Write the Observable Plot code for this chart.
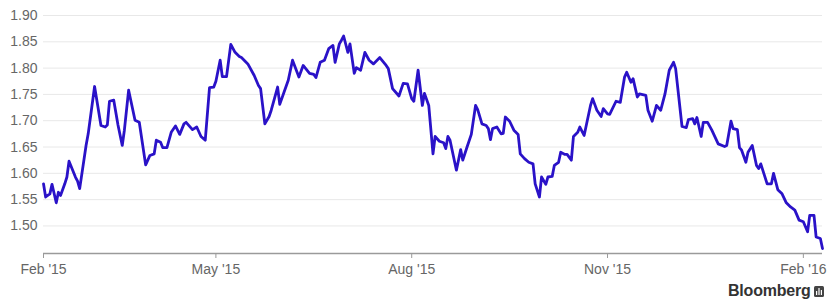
<!DOCTYPE html>
<html><head><meta charset="utf-8">
<script src="https://cdn.jsdelivr.net/npm/d3@7"></script>
<script src="https://cdn.jsdelivr.net/npm/@observablehq/plot@0.6"></script>
<style>
body{margin:0;background:#fff;font-family:"Liberation Sans",Arial,sans-serif;}
#wrap{position:relative;width:827px;height:301px;overflow:hidden;}
#brand{position:absolute;left:728px;top:282px;font-size:16px;font-weight:bold;color:#333;white-space:nowrap;letter-spacing:-0.2px;}
#brand svg{vertical-align:-1px;margin-left:3px;}
</style></head><body><div id="wrap"></div>
<script>
const dates = [
"2015-02-09","2015-02-10","2015-02-12","2015-02-13","2015-02-15","2015-02-16","2015-02-17","2015-02-19","2015-02-20","2015-02-21",
"2015-02-24","2015-02-25","2015-02-26","2015-03-01","2015-03-02","2015-03-05","2015-03-08","2015-03-10","2015-03-11","2015-03-12",
"2015-03-14","2015-03-16","2015-03-18","2015-03-19","2015-03-21","2015-03-24","2015-03-26","2015-03-29","2015-03-31","2015-04-02",
"2015-04-03","2015-04-05","2015-04-06","2015-04-08","2015-04-10","2015-04-12","2015-04-14","2015-04-16","2015-04-17","2015-04-20",
"2015-04-22","2015-04-24","2015-04-26","2015-04-28","2015-04-30","2015-05-01","2015-05-03","2015-05-04","2015-05-06","2015-05-08",
"2015-05-10","2015-05-12","2015-05-13","2015-05-16","2015-05-19","2015-05-21","2015-05-22","2015-05-24","2015-05-26","2015-05-27",
"2015-05-30","2015-05-31","2015-06-02","2015-06-04","2015-06-06","2015-06-09","2015-06-11","2015-06-14","2015-06-16","2015-06-17",
"2015-06-19","2015-06-21","2015-06-23","2015-06-25","2015-06-26","2015-06-28","2015-06-29","2015-06-30","2015-07-02","2015-07-03",
"2015-07-05","2015-07-06","2015-07-08","2015-07-10","2015-07-12","2015-07-14","2015-07-17","2015-07-20","2015-07-21","2015-07-23",
"2015-07-26","2015-07-28","2015-07-30","2015-08-01","2015-08-02","2015-08-04","2015-08-06","2015-08-07","2015-08-09","2015-08-11",
"2015-08-12","2015-08-14","2015-08-16","2015-08-17","2015-08-18","2015-08-19","2015-08-22","2015-08-24","2015-08-25","2015-08-27",
"2015-08-29","2015-08-31","2015-09-01","2015-09-03","2015-09-05","2015-09-06","2015-09-07","2015-09-08","2015-09-10","2015-09-12",
"2015-09-13","2015-09-14","2015-09-16","2015-09-18","2015-09-20","2015-09-21","2015-09-23","2015-09-25","2015-09-27","2015-09-28",
"2015-09-30","2015-10-01","2015-10-03","2015-10-04","2015-10-06","2015-10-07","2015-10-09","2015-10-10","2015-10-12","2015-10-13",
"2015-10-15","2015-10-16","2015-10-18","2015-10-19","2015-10-21","2015-10-24","2015-10-25","2015-10-27","2015-10-29","2015-10-30",
"2015-11-01","2015-11-02","2015-11-05","2015-11-07","2015-11-09","2015-11-10","2015-11-12","2015-11-13","2015-11-15","2015-11-16",
"2015-11-19","2015-11-20","2015-11-22","2015-11-24","2015-11-26","2015-11-28","2015-11-30","2015-12-02","2015-12-03","2015-12-06",
"2015-12-08","2015-12-09","2015-12-11","2015-12-12","2015-12-13","2015-12-15","2015-12-16","2015-12-18","2015-12-20","2015-12-23",
"2015-12-26","2015-12-27","2015-12-29","2015-12-30","2016-01-01","2016-01-02","2016-01-03","2016-01-05","2016-01-06","2016-01-08",
"2016-01-10","2016-01-11","2016-01-12","2016-01-15","2016-01-17","2016-01-18","2016-01-20","2016-01-22","2016-01-24","2016-01-26",
"2016-01-28","2016-01-30","2016-02-01","2016-02-03","2016-02-04","2016-02-06","2016-02-07","2016-02-09","2016-02-10"
];
const yields = [
1.580,1.555,1.561,1.579,1.544,1.564,1.558,1.580,1.593,1.623,
1.593,1.585,1.571,1.653,1.675,1.765,1.691,1.688,1.692,1.737,
1.739,1.692,1.653,1.682,1.758,1.701,1.697,1.616,1.634,1.637,
1.663,1.659,1.649,1.649,1.678,1.690,1.674,1.694,1.697,1.683,
1.688,1.670,1.663,1.763,1.764,1.775,1.815,1.784,1.784,1.845,
1.830,1.822,1.820,1.808,1.786,1.767,1.761,1.694,1.708,1.720,
1.764,1.731,1.754,1.777,1.815,1.783,1.805,1.790,1.788,1.782,
1.811,1.815,1.837,1.843,1.811,1.846,1.853,1.861,1.830,1.846,
1.790,1.801,1.796,1.830,1.815,1.808,1.820,1.805,1.799,1.761,
1.747,1.771,1.770,1.742,1.737,1.796,1.729,1.752,1.729,1.637,
1.670,1.661,1.658,1.647,1.670,1.663,1.606,1.645,1.625,1.650,
1.674,1.729,1.721,1.694,1.691,1.685,1.664,1.685,1.688,1.675,
1.676,1.707,1.699,1.682,1.674,1.637,1.628,1.621,1.618,1.580,
1.555,1.593,1.579,1.593,1.594,1.615,1.621,1.640,1.636,1.636,
1.625,1.670,1.678,1.688,1.672,1.729,1.742,1.720,1.708,1.723,
1.713,1.712,1.737,1.735,1.783,1.792,1.773,1.780,1.745,1.751,
1.748,1.720,1.699,1.729,1.720,1.751,1.796,1.811,1.799,1.689,
1.687,1.702,1.704,1.694,1.706,1.670,1.697,1.697,1.682,1.656,
1.651,1.653,1.699,1.685,1.683,1.649,1.644,1.621,1.640,1.653,
1.615,1.609,1.618,1.580,1.580,1.600,1.569,1.561,1.544,1.536,
1.530,1.511,1.508,1.489,1.520,1.520,1.479,1.476,1.457
];
const yTicks = [1.50,1.55,1.60,1.65,1.70,1.75,1.80,1.85,1.90];
const xTickDates = ["2015-02-09","2015-05-01","2015-08-01","2015-11-01","2016-02-01"];
const xTickLabels = ["Feb '15","May '15","Aug '15","Nov '15","Feb '16"];
const yMin = 1.4476, yMax = 1.90;

const data = dates.map((d, i) => ({date: new Date(d), value: yields[i]}));
const tickDates = xTickDates.map(d => new Date(d));
const labelMap = new Map(tickDates.map((d, i) => [+d, xTickLabels[i]]));

const chart = Plot.plot({
  width: 827, height: 301,
  marginLeft: 43, marginRight: 5, marginTop: 15, marginBottom: 48,
  style: {fontFamily: "'Liberation Sans', Arial, sans-serif", fontSize: "14px", color: "#666", background: "#fff", overflow: "visible"},
  x: {type: "utc", domain: [new Date(dates[0]), new Date(dates[dates.length - 1])]},
  y: {domain: [yMin, yMax]},
  marks: [
    Plot.gridY(yTicks, {stroke: "#e8e8e8", strokeOpacity: 1, strokeWidth: 1}),
    Plot.axisY(yTicks, {tickSize: 0, tickPadding: 6, tickFormat: d => d.toFixed(2), fill: "#666", label: null}),
    Plot.ruleY([yMin], {stroke: "#9a9a9a", strokeWidth: 1.5}),
    Plot.axisX(tickDates, {tickSize: 5, tickPadding: 6, tickFormat: d => labelMap.get(+d), stroke: "#9a9a9a", fill: "#666", label: null}),
    Plot.line(data, {x: "date", y: "value", stroke: "#2a12c8", strokeWidth: 2.8, strokeLinejoin: "round", strokeLinecap: "round"})
  ]
});
const wrap = document.getElementById("wrap");
wrap.appendChild(chart);
const brand = document.createElement("div");
brand.id = "brand";
brand.innerHTML = 'Bloomberg<svg width="10" height="11" viewBox="0 0 10 11"><rect x="0" y="0" width="10" height="11" rx="1.5" fill="#444"/><rect x="2" y="5" width="1.2" height="4" fill="#fff"/><rect x="4.4" y="2" width="1.2" height="7" fill="#fff"/><rect x="6.8" y="4" width="1.2" height="5" fill="#fff"/></svg>';
wrap.appendChild(brand);
</script>
</body></html>
